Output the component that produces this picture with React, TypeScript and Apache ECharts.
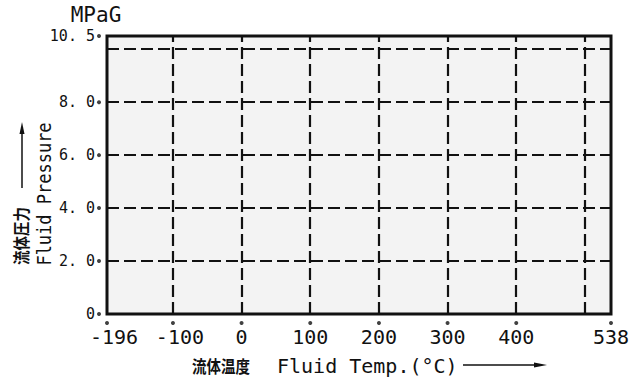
import React, { useEffect, useRef } from 'react';
import * as echarts from 'echarts';

const xRange = [-196, 538];
const yRange = [0, 10.5];
const xTicks = [-196, -100, 0, 100, 200, 300, 400, 538];
const xGridLines = [-100, 0, 100, 200, 300, 400, 500];
const yTicks = [0, 2, 4, 6, 8, 10.5];
const yGridLines = [2, 4, 6, 8, 10];
const yUnit = 'MPaG';
const yNameJa = '流体圧力';
const yNameEn = 'Fluid Pressure';
const xNameJa = '流体温度';
const xNameEn = 'Fluid Temp.(°C)';

const INK = '#111';
const MONO = '"DejaVu Sans Mono", "Liberation Mono", monospace';
const CJK = '"Noto Sans CJK JP", sans-serif';

export default function App() {
  const ref = useRef<HTMLDivElement>(null);
  useEffect(() => {
    if (!ref.current) return;
    const chart = echarts.init(ref.current, null, { renderer: 'svg' });
    const dash = [12, 5];
    chart.setOption({
      animation: false,
      backgroundColor: '#ffffff',
      grid: {
        left: 107,
        right: 30,
        top: 36,
        bottom: 68,
        show: true,
        borderColor: INK,
        borderWidth: 3,
        backgroundColor: '#f3f3f3',
      },
      xAxis: {
        type: 'value',
        min: xRange[0],
        max: xRange[1],
        axisLine: { show: false },
        axisTick: { show: false },
        splitLine: { show: false },
        axisLabel: {
          customValues: xTicks,
          margin: 13,
          color: INK,
          fontFamily: MONO,
          fontSize: 20,
          formatter: (v: number) => (v < 0 ? '{n|' + String(v) + '}' : String(v)),
          rich: {
            n: { fontFamily: MONO, fontSize: 20, color: INK, padding: [0, 0, 0, 14] },
          },
        },
      },
      yAxis: {
        type: 'value',
        min: yRange[0],
        max: yRange[1],
        axisLine: { show: false },
        axisTick: { show: false },
        splitLine: { show: false },
        axisLabel: {
          customValues: yTicks,
          margin: 12,
          color: INK,
          fontFamily: MONO,
          fontSize: 15,
          formatter: (v: number) => (v === 0 ? '0' : v.toFixed(1).replace('.', '. ')),
        },
      },
      series: [
        {
          type: 'scatter',
          data: xTicks.map((v) => [v, yRange[0]]),
          symbol: 'circle',
          symbolSize: 4,
          symbolOffset: [0, 9],
          clip: false,
          silent: true,
          itemStyle: { color: INK },
          markLine: {
            silent: true,
            symbol: ['none', 'none'],
            label: { show: false },
            lineStyle: { color: INK, width: 2.2, type: dash },
            data: [
              ...xGridLines.map((v) => ({ xAxis: v })),
              ...yGridLines.map((v) => ({ yAxis: v })),
            ],
          },
        },
        {
          type: 'scatter',
          data: yTicks.map((v) => [xRange[0], v]),
          symbol: 'circle',
          symbolSize: 4,
          symbolOffset: [-8, 0],
          clip: false,
          silent: true,
          itemStyle: { color: INK },
        },
      ],
      graphic: [
        {
          type: 'text',
          x: 96,
          y: 15,
          style: { text: yUnit, font: '21px ' + MONO, fill: INK, align: 'center', verticalAlign: 'middle' },
        },
        {
          type: 'text',
          x: 21,
          y: 236,
          rotation: Math.PI / 2,
          scaleX: 0.85,
          style: { text: yNameJa, font: 'bold 17px ' + CJK, fill: INK, align: 'center', verticalAlign: 'middle' },
        },
        {
          type: 'text',
          x: 44,
          y: 194,
          rotation: Math.PI / 2,
          scaleX: 0.85,
          style: { text: yNameEn, font: '20px ' + MONO, fill: INK, align: 'center', verticalAlign: 'middle' },
        },
        {
          type: 'line',
          shape: { x1: 22, y1: 188, x2: 22, y2: 130 },
          style: { stroke: INK, lineWidth: 1.5 },
        },
        {
          type: 'polygon',
          shape: { points: [[22, 122], [19.5, 134], [24.5, 134]] },
          style: { fill: INK },
        },
        {
          type: 'text',
          x: 221,
          y: 366,
          scaleX: 0.85,
          style: { text: xNameJa, font: 'bold 17px ' + CJK, fill: INK, align: 'center', verticalAlign: 'middle' },
        },
        {
          type: 'text',
          x: 277,
          y: 366,
          style: { text: xNameEn, font: '20px ' + MONO, fill: INK, align: 'left', verticalAlign: 'middle' },
        },
        {
          type: 'line',
          shape: { x1: 463, y1: 365, x2: 536, y2: 365 },
          style: { stroke: INK, lineWidth: 1.5 },
        },
        {
          type: 'polygon',
          shape: { points: [[547, 365], [534, 362.5], [534, 367.5]] },
          style: { fill: INK },
        },
      ],
    });
    return () => chart.dispose();
  }, []);
  return (
    <div
      ref={ref}
      style={{ position: 'fixed', left: 0, top: 0, width: 641, height: 382 }}
    />
  );
}
